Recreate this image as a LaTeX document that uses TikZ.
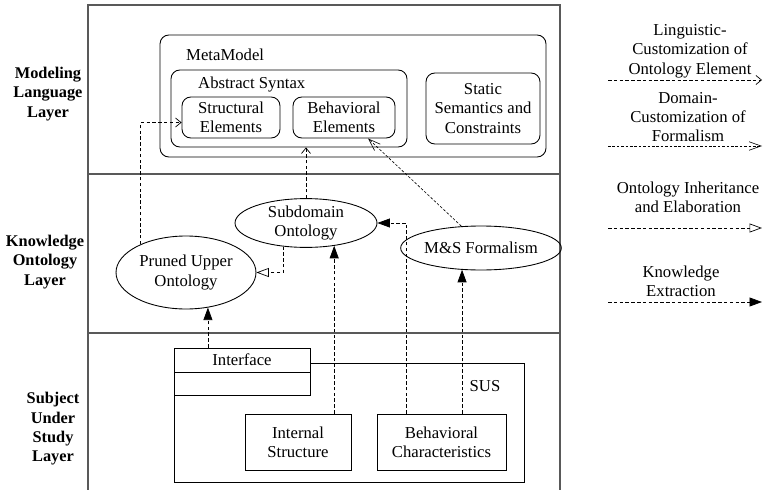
\documentclass[tikz,border=0pt]{standalone}
\usepackage{fontspec}
\setmainfont{Liberation Serif}
\usetikzlibrary{arrows.meta,shapes.geometric,calc}

\begin{document}
\begin{tikzpicture}[
  x=0.02cm, y=-0.02cm,
  font=\fontsize{9.5}{11}\selectfont,
  frame/.style={draw=black!65, line width=0.8pt},
  rbox/.style={draw, rounded corners=5pt, inner sep=0pt, align=center,
               line width=0.5pt},
  sbox/.style={draw, fill=white, inner sep=0pt, align=center,
               line width=0.5pt},
  onto/.style={draw, ellipse, inner sep=0pt, align=center, line width=0.5pt},
  layer label/.style={font=\fontsize{9.3}{11}\selectfont\bfseries,
                      align=center},
  legend label/.style={align=center},
  lingarrow/.style={line width=0.4pt, dash pattern=on 2pt off 1.3pt,
                    -{Straight Barb[length=1.1mm, width=1.8mm]}},
  domarrow/.style={line width=0.35pt, dash pattern=on 1.5pt off 1pt,
                   -{Straight Barb[length=2.4mm, width=1.7mm]}},
  inharrow/.style={line width=0.4pt, dash pattern=on 2pt off 1.3pt,
                   -{Triangle[open, length=2.5mm, width=1.8mm]}},
  extarrow/.style={line width=0.4pt, dash pattern=on 2pt off 1.3pt,
                   -{Triangle[length=2.5mm, width=1.8mm]}},
]
\useasboundingbox (0,0) rectangle (764,490);

% === Layer frame ===
\draw[frame] (88,490) -- (88,5) -- (560,5) -- (560,490);
\draw[frame] (88,174) -- (560,174);
\draw[frame] (88,333) -- (560,333);

\node[layer label] (lmodel) at (48,94) {Modeling\\Language\\Layer};
\node[layer label] (lknow) at (45,262) {Knowledge\\Ontology\\Layer};
\node[layer label] (lsus) at (53,429) {Subject\\Under\\Study\\Layer};

% === Modeling language layer ===
\node[rbox, minimum width=7.72cm, minimum height=2.44cm] (metamodel)
  at (353,96) {};
\node[anchor=west] (mmlabel) at (180,55) {MetaModel};
\node[rbox, minimum width=4.72cm, minimum height=1.54cm] (abstract)
  at (289,108.5) {};
\node[anchor=west] (aslabel) at (192,85) {Abstract Syntax};
\node[rbox, minimum width=1.96cm, minimum height=0.82cm] (structural)
  at (231,117.5) {Structural\\Elements};
\node[rbox, minimum width=2.04cm, minimum height=0.82cm] (behav)
  at (344,117.5) {Behavioral\\Elements};
\node[rbox, minimum width=2.28cm, minimum height=1.42cm] (static)
  at (483,108.5) {Static\\Semantics and\\Constraints};

% === Knowledge ontology layer ===
\node[onto, minimum width=2.84cm, minimum height=0.96cm] (subdomain)
  at (306,223) {Subdomain\\Ontology};
\node[onto, minimum width=2.8cm, minimum height=1.46cm] (pruned)
  at (186,272.5) {Pruned Upper\\Ontology};
\node[onto, minimum width=2.4cm, minimum height=0.88cm] (msf)
  at (481,248) {M\&S Formalism};

% === Subject under study layer ===
\node[sbox, minimum width=7cm, minimum height=2.38cm] (sus) at (349,422.5) {};
\node (suslabel) at (485,386) {SUS};
\node[sbox, minimum width=2.72cm, minimum height=0.48cm] (iface)
  at (242,360) {Interface};
\node[sbox, minimum width=2.72cm, minimum height=0.46cm, anchor=north]
  (ifacebody) at (iface.south) {};
\node[sbox, minimum width=2.12cm, minimum height=1.12cm] (intstruct)
  at (298,442) {Internal\\Structure};
\node[sbox, minimum width=2.58cm, minimum height=1.12cm] (behchar)
  at (441.5,442) {Behavioral\\Characteristics};

% === Connectors ===
\draw[lingarrow] (pruned.148) |- ([yshift=-1mm]structural.west);
\draw[lingarrow] (subdomain.north) -- (subdomain.north |- abstract.south);
\draw[domarrow] (msf.132) -- ([xshift=4.8mm]behav.south);
\draw[inharrow] (subdomain.226) |- (pruned.east);

\draw[extarrow] (pruned.302 |- iface.north) -- (pruned.302);
\draw[extarrow] (subdomain.321 |- intstruct.north) -- (subdomain.321);
\draw[extarrow] ($(behchar.north west)!0.23!(behchar.north east)$)
  |- (subdomain.east);
\draw[extarrow] (msf.229 |- behchar.north) -- (msf.229);

% === Legend ===
\node[legend label] (legling) at (690,51)
  {Linguistic-\\Customization of\\Ontology Element};
\node[legend label] (legdom) at (688,117)
  {Domain-\\Customization of\\Formalism};
\node[legend label] (leginh) at (688,197.5)
  {Ontology Inheritance\\and Elaboration};
\node[legend label] (legext) at (681,281) {Knowledge\\Extraction};

\foreach \name/\y in {ling/80, dom/146, inh/228, ext/302} {
  \coordinate (\name from) at (608,\y);
  \coordinate (\name to) at (762,\y);
  \draw[\name arrow] (\name from) -- (\name to);
}

\end{tikzpicture}
\end{document}
